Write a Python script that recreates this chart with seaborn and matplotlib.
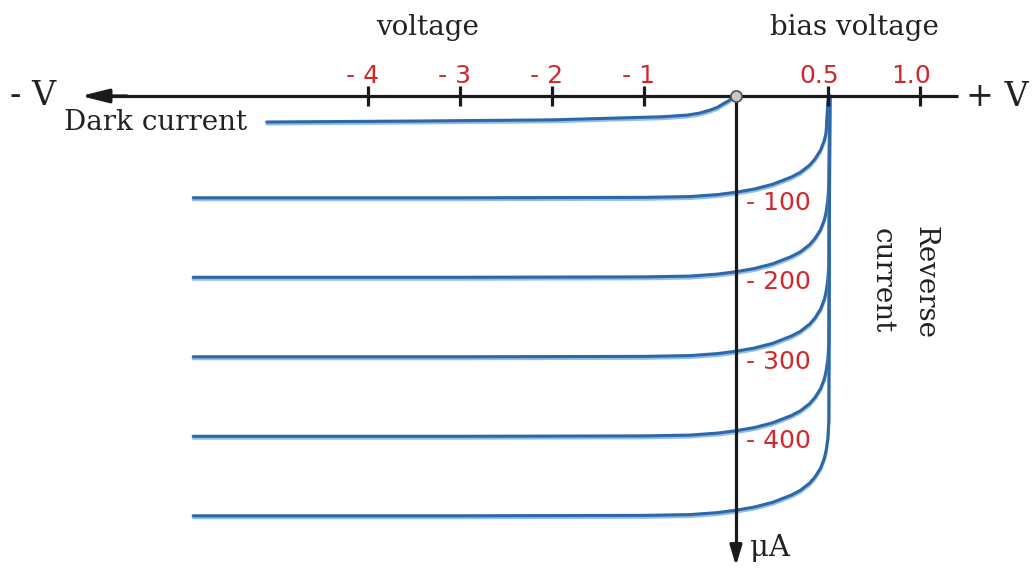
import numpy as np
import pandas as pd
import matplotlib
matplotlib.use("Agg")
import matplotlib.pyplot as plt
import matplotlib.patheffects as pe
import seaborn as sns

# photocurrent curves: plateau current (uA) and the knee shape
levels = [-100, -200, -300, -400, -500]
level_labels = ["- 100", "- 200", "- 300", "- 400"]
knee_v = [-5.9, -3.0, -1.0, -0.5, -0.2, 0.0, 0.1, 0.2, 0.3, 0.35, 0.4, 0.43, 0.46, 0.48, 0.49, 0.50, 0.505]
knee_rise = [0, 0, 0.5, 1.5, 4, 7, 11, 17, 26, 32, 41, 49, 60, 72, 82, 98, 120]
open_v = 0.51

# dark current curve
dark_v = [-5.1, -3.5, -2.0, -1.26, -0.8, -0.53, -0.4, -0.28, -0.2, -0.14, -0.08, -0.04, 0.0]
dark_i = [-10.9, -10.5, -10.0, -9.2, -8.7, -8.0, -7.2, -5.9, -4.7, -3.3, -2.0, -0.9, 0.0]

tick_v = [-4, -3, -2, -1, 0.5, 1.0]
tick_labels = ["- 4", "- 3", "- 2", "- 1", "0.5", "1.0"]

BLUE = "#2d67a6"
RED = "#d1282e"


# schematic axes: forward side drawn at double scale, small currents stretched
def fwd_x(v):
    v = np.asarray(v, dtype=float)
    return np.where(v < 0, v, 2 * v)


def inv_x(u):
    u = np.asarray(u, dtype=float)
    return np.where(u < 0, u, u / 2)


def fwd_y(i):
    i = np.asarray(i, dtype=float)
    return np.where(i < -14, i - 28, 3 * i)


def inv_y(u):
    u = np.asarray(u, dtype=float)
    return np.where(u < -42, u + 28, u / 3)


rows = []
for k, lev in enumerate(levels):
    cur = np.minimum(lev + np.array(knee_rise, dtype=float), 0)
    for v, i in zip(knee_v + [open_v], list(cur) + [0.0]):
        rows.append({"curve": k, "V": v, "I": i})
df = pd.DataFrame(rows)
dark = pd.DataFrame({"V": dark_v, "I": dark_i})

sns.set_theme(style="white")
plt.rcParams["font.family"] = ["DejaVu Serif"]

fig = plt.figure(figsize=(10.32, 5.70), dpi=100)
ax = fig.add_axes([0, 0, 1, 1])
ax.set_xscale("function", functions=(fwd_x, inv_x))
ax.set_yscale("function", functions=(fwd_y, inv_y))

glow = [pe.SimpleLineShadow(offset=(0, -1.4), shadow_color="#7fb2e2", alpha=0.85, rho=1.0),
        pe.Normal()]
sns.lineplot(data=df, x="V", y="I", hue="curve", palette=[BLUE] * len(levels),
             sort=False, estimator=None, legend=False, lw=2.2, ax=ax,
             path_effects=glow, zorder=2)
sns.lineplot(data=dark, x="V", y="I", sort=False, estimator=None, color=BLUE,
             lw=2.2, ax=ax, path_effects=glow, zorder=2)

x_lo, x_hi = -8.0, 1.609
y_lo, y_hi = -568.2, 40.25
ax.set_xlim(x_lo, x_hi)
ax.set_ylim(y_lo, y_hi)

# axes with arrows
axis_left, axis_right, axis_bottom = -7.12, 1.207, -563
ax.plot([axis_left + 0.3, axis_right], [0, 0], color="k", lw=2.3, zorder=3, solid_capstyle="butt")
ax.annotate("", xy=(axis_left, 0), xytext=(axis_left + 0.5, 0),
            arrowprops=dict(arrowstyle="-|>,head_length=1.4,head_width=0.35",
                            color="k", lw=2.3, shrinkA=0, shrinkB=0), zorder=3)
ax.plot([0, 0], [0, axis_bottom + 20], color="k", lw=2.3, zorder=3, solid_capstyle="butt")
ax.annotate("", xy=(0, axis_bottom), xytext=(0, axis_bottom + 25),
            arrowprops=dict(arrowstyle="-|>,head_length=1.0,head_width=0.3",
                            color="k", lw=2.3, shrinkA=0, shrinkB=0), zorder=3)
ax.plot(tick_v, [0] * len(tick_v), ls="none", marker="|", ms=15, mew=2.3, color="k", zorder=3)
ax.plot([0], [0], ls="none", marker="o", ms=8, mfc="#c9c9c9", mec="#505050", mew=1.2, zorder=5)

for v, lab in zip(tick_v, tick_labels):
    ax.annotate(lab, xy=(v, 0), xytext=(11, 13), textcoords="offset pixels",
                ha="right", va="baseline", color=RED, fontsize=18,
                family=["DejaVu Sans"], zorder=4)

for lev, lab in zip(levels, level_labels):
    ax.annotate(lab, xy=(0, lev), xytext=(10, -5), textcoords="offset pixels",
                ha="left", va="center", color=RED, fontsize=18,
                family=["DejaVu Sans"], zorder=4)

ax.annotate("Dark current", xy=(dark_v[0], dark_i[0]), xytext=(-20, -1),
            textcoords="offset pixels", ha="right", va="center", fontsize=20, color="#222222")

ax.text(0.414, 0.951, "voltage", transform=ax.transAxes, ha="center", va="center",
        fontsize=20, color="#222222")
ax.text(0.8275, 0.951, "bias voltage", transform=ax.transAxes, ha="center", va="center",
        fontsize=20, color="#222222")
ax.text(0.032, 0.832, "- V", transform=ax.transAxes, ha="center", va="center",
        fontsize=24, color="#222222")
ax.text(0.966, 0.830, "+ V", transform=ax.transAxes, ha="center", va="center",
        fontsize=24, color="#222222")
ax.text(0.896, 0.505, "Reverse", transform=ax.transAxes, ha="center", va="center",
        rotation=-90, fontsize=20, color="#222222")
ax.text(0.855, 0.507, "current", transform=ax.transAxes, ha="center", va="center",
        rotation=-90, fontsize=20, color="#222222")
ax.text(0.727, 0.038, "μA", transform=ax.transAxes, ha="left", va="center",
        fontsize=21, color="#222222")

ax.set_axis_off()
fig.savefig("out.png", dpi=100)
plt.close(fig)
